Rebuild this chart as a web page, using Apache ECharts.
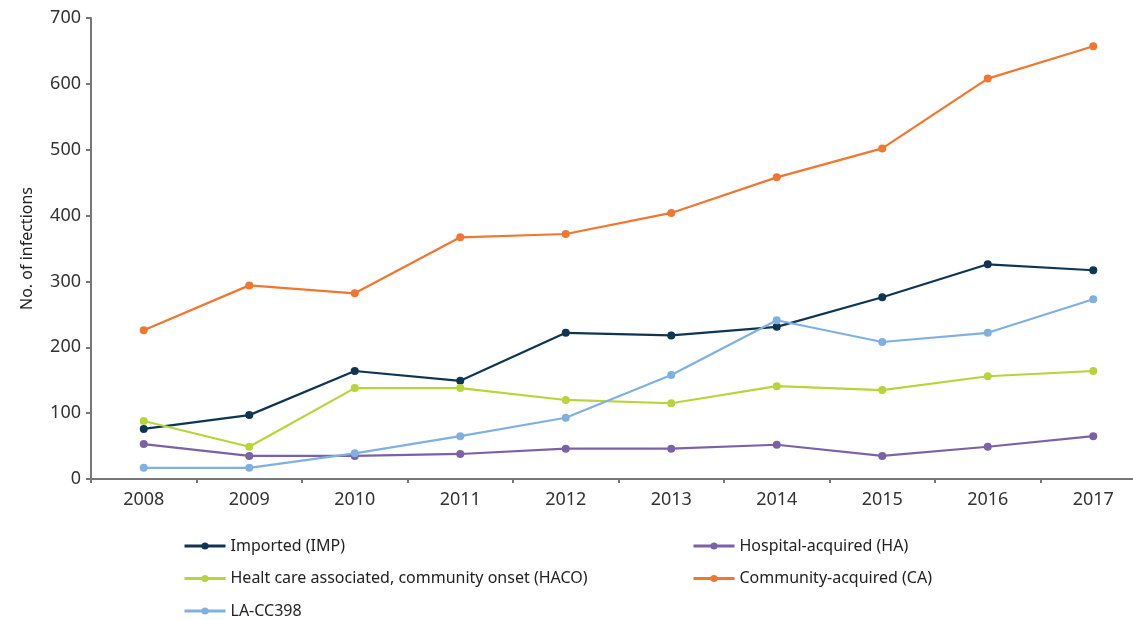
<!DOCTYPE html>
<html>
<head>
<meta charset="utf-8">
<script src="https://cdn.jsdelivr.net/npm/echarts@6/dist/echarts.min.js"></script>
<style>
  html, body { margin: 0; padding: 0; background: #fff; }
  #chart { width: 1133px; height: 620px; }
</style>
</head>
<body>
<div id="chart"></div>
<script>
// years on the x axis
const years = ['2008', '2009', '2010', '2011', '2012', '2013', '2014', '2015', '2016', '2017'];

// values
const imported = [76, 97, 164, 149, 222, 218, 231, 276, 326, 317];
const hospitalAcquired = [53, 35, 35, 38, 46, 46, 52, 35, 49, 65];
const haco = [88, 49, 138, 138, 120, 115, 141, 135, 156, 164];
const communityAcquired = [226, 294, 282, 367, 372, 404, 458, 502, 608, 657];
const laCC398 = [17, 17, 39, 65, 93, 158, 241, 208, 222, 273];

const yTicks = [0, 100, 200, 300, 400, 500, 600, 700];

const font = 'Noto Sans';

function line(name, data, color) {
  return {
    name: name,
    type: 'line',
    data: data,
    symbol: 'circle',
    symbolSize: 8,
    lineStyle: { width: 2.2, color: color },
    itemStyle: { color: color },
    emphasis: { disabled: true }
  };
}

let myChart = echarts.init(document.getElementById('chart'));

let legendText = { fontSize: 16, color: '#222', fontFamily: font };

let option = {
  animation: false,
  textStyle: { fontFamily: font },
  grid: { left: 91, top: 18, width: 1055, height: 461, outerBoundsMode: 'none', containLabel: false },
  legend: [
    {
      orient: 'vertical',
      left: 178,
      top: 533,
      height: 110,
      itemWidth: 41,
      itemHeight: 9,
      itemGap: 16.5,
      lineStyle: { width: 3 },
      textStyle: legendText,
      data: ['Imported (IMP)', 'Healt care associated, community onset (HACO)', 'LA-CC398']
    },
    {
      orient: 'vertical',
      left: 687,
      top: 533,
      height: 110,
      itemWidth: 41,
      itemHeight: 9,
      itemGap: 16.5,
      lineStyle: { width: 3 },
      textStyle: legendText,
      data: ['Hospital-acquired (HA)', 'Community-acquired (CA)']
    }
  ],
  xAxis: {
    type: 'category',
    data: years,
    boundaryGap: true,
    axisLine: { lineStyle: { color: '#777', width: 2 } },
    axisTick: { show: true, length: 4, lineStyle: { color: '#777', width: 2 } },
    axisLabel: { fontSize: 18, color: '#333', margin: 12 }
  },
  yAxis: {
    type: 'value',
    min: yTicks[0],
    max: yTicks[yTicks.length - 1],
    interval: 100,
    name: 'No. of infections',
    nameLocation: 'middle',
    nameGap: 56,
    nameTextStyle: { fontSize: 16, color: '#222' },
    splitLine: { show: false },
    axisLine: { show: true, lineStyle: { color: '#777', width: 2 } },
    axisTick: { show: true, length: 5, lineStyle: { color: '#777', width: 2 } },
    axisLabel: { fontSize: 18, color: '#333', margin: 10 }
  },
  series: [
    line('Imported (IMP)', imported, '#0f3553'),
    line('Hospital-acquired (HA)', hospitalAcquired, '#7b62a8'),
    line('Healt care associated, community onset (HACO)', haco, '#b7d53a'),
    line('Community-acquired (CA)', communityAcquired, '#ef772f'),
    line('LA-CC398', laCC398, '#7fb1e0')
  ]
};

myChart.setOption(option);
</script>
</body>
</html>
